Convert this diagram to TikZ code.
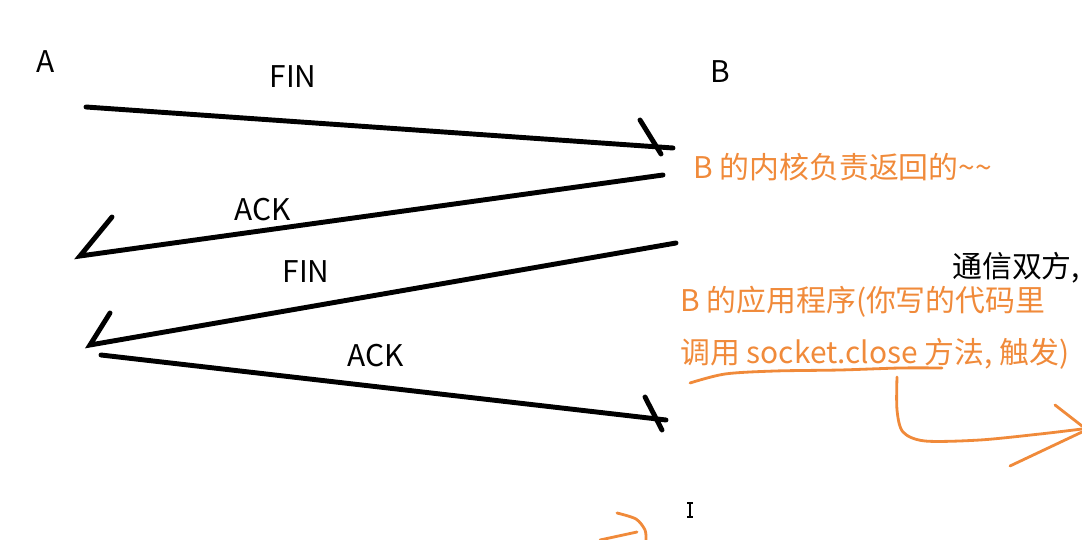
\documentclass[tikz,border=0pt]{standalone}
\usepackage{fontspec}
\setmainfont{Noto Sans CJK SC}
\definecolor{penorange}{RGB}{240,138,58}
\tikzset{
  pen/.style={line width=2.8pt,line cap=round,black},
  marker/.style={line width=1.6pt,line cap=round,penorange},
  lbl/.style={inner sep=0pt,font=\fontsize{17}{20}\selectfont},
  note/.style={lbl,anchor=west,text=penorange},
}
\begin{document}
\begin{tikzpicture}[x=0.02cm,y=-0.02cm]
			\useasboundingbox (0,0) rectangle (1082,540);
			% endpoints of the strokes
			\coordinate (a1) at (86,107);   \coordinate (b1) at (673,148);
			\coordinate (b2) at (663,175);  \coordinate (a2) at (80,256);
			\coordinate (b3) at (676,243);  \coordinate (a3) at (90,345);
			\coordinate (a4) at (101,355);  \coordinate (b4) at (666,420);
			\node[lbl] (A) at (46,62) {A};
			\node[lbl] (B) at (720,72) {B};
			\node[lbl] (fin1) at (293,77) {FIN};
			\node[lbl] (ack1) at (263,210) {ACK};
			\node[lbl] (fin2) at (306,272) {FIN};
			\node[lbl] (ack2) at (376,356) {ACK};
			\draw[pen] (a1) -- (b1) (640,120) -- (661,154);
			\draw[pen] (b2) -- (a2) -- (112,217);
			\draw[pen] (b3) -- (a3) -- (110,313);
			\draw[pen] (a4) -- (b4) (645,397) -- (662,430);
			% notes
			\node[note] (kernel) at (693,167) {B 的内核负责返回的\textasciitilde\textasciitilde};
			\node[lbl,anchor=west] (both) at (952,268) {通信双方,};
			\node[note] (app1) at (680,302) {B 的应用程序(你写的代码里};
			\node[note] (app2) at (680,354) {调用 socket.close 方法, 触发)};
			\draw[marker] plot[smooth] coordinates {(690,383) (725,374) (775,371) (840,370) (900,368) (942,368)};
			\draw[marker] plot[smooth] coordinates {(897,377) (897,410) (903,432) (925,441) (980,440) (1040,434) (1082,429)};
			\draw[marker] (1055,405) -- (1082,426) (1082,432) -- (1010,466);
			\draw[marker] plot[smooth] coordinates {(617,513) (636,519) (645,530) (646,540)};
			\draw[marker] (600,540) -- (637,532);
			% cursor
			\draw[line width=0.8pt] (690,503) -- (690,517) (687,503) -- (693,503) (687,517) -- (693,517);
			\end{tikzpicture}
\end{document}
